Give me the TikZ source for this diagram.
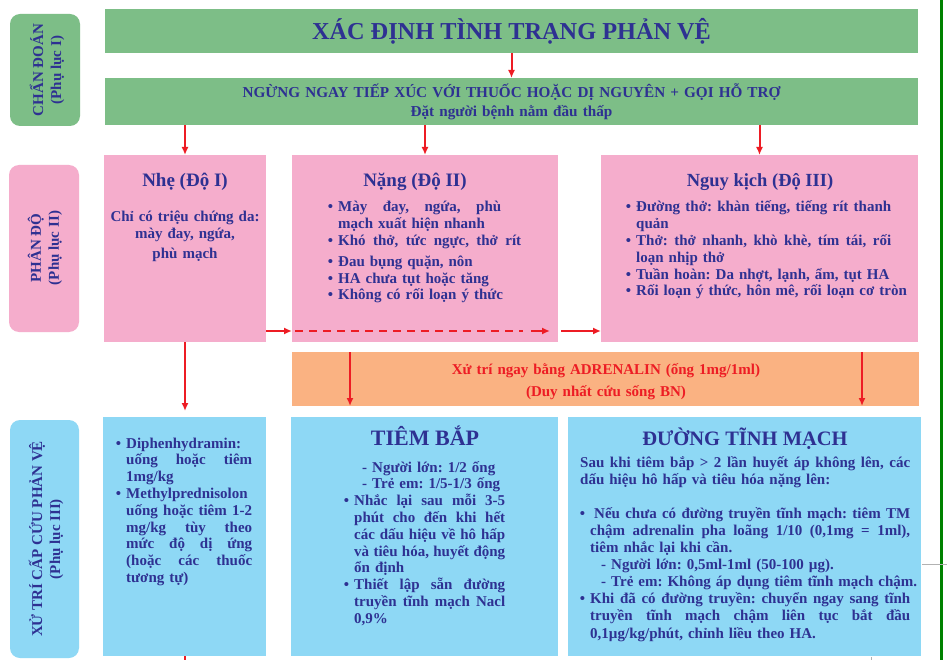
\documentclass[tikz,border=0pt]{standalone}
\usepackage{fontspec}
\setmainfont{Liberation Serif}
\usetikzlibrary{arrows.meta,calc}
\definecolor{cgreen}{RGB}{125,190,135}
\definecolor{cpink}{RGB}{245,173,204}
\definecolor{corange}{RGB}{250,178,130}
\definecolor{cblue}{RGB}{142,216,245}
\definecolor{cnavy}{RGB}{46,49,146}
\definecolor{cred}{RGB}{237,28,36}
\definecolor{cline}{RGB}{0,130,0}
\newcommand\jl[2]{\makebox[#1pt][s]{\spaceskip=\fontdimen2\font plus 1fil\relax\xspaceskip=\spaceskip #2}}
\newcommand\bl{\leavevmode\llap{\textbullet\hspace{5pt}}}
\newcommand\mkbox[6]{\node[box,#6,minimum width={(#4-#2)*1pt},minimum height={(#5-#3)*1pt}] (#1) at (#2,#3) {};}
\tikzset{
  box/.style={draw=none, inner sep=0pt, outer sep=0pt, anchor=north west},
  lab/.style={box, rounded corners=10pt},
  txt/.style={inner sep=0pt, text=cnavy, font=\bfseries\fontsize{15}{16.8}\selectfont},
  body/.style={txt, anchor=base west, align=left},
  head/.style={inner sep=0pt, text=cnavy, anchor=base, font=\bfseries\fontsize{19}{22}\selectfont},
  labt/.style={inner sep=0pt, text=cnavy, align=center, rotate=90, font=\bfseries\fontsize{15}{18}\selectfont},
  arr/.style={draw=cred, line width=2pt, -{Latex[length=8pt,width=7pt]}},
  rline/.style={draw=cred, line width=2pt},
}
\begin{document}
\frenchspacing
\begin{tikzpicture}[x=1pt,y=-1pt]
\useasboundingbox (0,0) rectangle (947,660);
\fill[white] (0,0) rectangle (947,660);
% boxes
\mkbox{lab1}{10}{14}{80}{126}{lab,fill=cgreen}
\mkbox{title}{105}{9}{918}{53}{fill=cgreen}
\mkbox{act}{105}{78}{918}{125}{fill=cgreen}
\mkbox{lab2}{9}{165}{79}{332}{lab,fill=cpink}
\mkbox{nhe}{104}{155}{266}{342}{fill=cpink}
\mkbox{nang}{292}{155}{558}{342}{fill=cpink}
\mkbox{nguy}{601}{155}{918}{342}{fill=cpink}
\mkbox{adr}{292}{352}{919}{406}{fill=corange}
\mkbox{lab3}{10}{420}{79}{658}{lab,fill=cblue}
\mkbox{bone}{103}{417}{266}{656}{fill=cblue}
\mkbox{btwo}{291}{417}{558}{656}{fill=cblue}
\mkbox{bthree}{568}{417}{921}{656}{fill=cblue}
% side labels
\node[labt] (lab1t) at (47,70) {CHẨN ĐOÁN\\(Phụ lục I)};
\node[labt] (lab2t) at (45,248) {PHÂN ĐỘ\\(Phụ lục II)};
\node[labt] (lab3t) at (46,539) {XỬ TRÍ CẤP CỨU PHẢN VỆ\\(Phụ lục III)};
% top texts
\node[inner sep=0pt, text=cnavy, font=\bfseries\fontsize{24.3}{28}\selectfont, anchor=base] (titlet) at (511.5,40) {XÁC ĐỊNH TÌNH TRẠNG PHẢN VỆ};
\node[txt, font=\bfseries\fontsize{15.2}{19}\selectfont, align=center, text width=800pt, anchor=base] (actt) at (511.5,98) {NGỪNG NGAY TIẾP XÚC VỚI THUỐC HOẶC DỊ NGUYÊN + GỌI HỖ TRỢ\\Đặt người bệnh nằm đầu thấp};
% grade headings
\node[head] (nheh) at (185,187) {Nhẹ (Độ I)};
\node[head] (nangh) at (415,187) {Nặng (Độ II)};
\node[head, font=\bfseries\fontsize{18.5}{22}\selectfont] (nguyh) at (760,187) {Nguy kịch (Độ III)};
\node[txt, text width=160pt, align=center, anchor=base] (nheb) at (185,222) {Chỉ có triệu chứng da:\\mày đay, ngứa,\\[3pt]phù mạch};
\node[body, text width=220pt] (nangb) at (338,212) {\bl\jl{163}{Mày đay, ngứa, phù}\\
mạch xuất hiện nhanh\\
\bl\jl{183}{Khó thở, tức ngực, thở rít}\\[4pt]
\bl Đau bụng quặn, nôn\\
\bl HA chưa tụt hoặc tăng\\
\bl Không có rối loạn ý thức};
\node[body, text width=300pt] (nguyb) at (636,212) {\bl\jl{255}{Đường thở: khàn tiếng, tiếng rít thanh}\\
quản\\
\bl\jl{255}{Thở: thở nhanh, khò khè, tím tái, rối}\\
loạn nhịp thở\\
\bl Tuần hoàn: Da nhợt, lạnh, ẩm, tụt HA\\
\bl Rối loạn ý thức, hôn mê, rối loạn cơ tròn};
% adrenalin
\node[txt, text=cred, align=center, text width=600pt, anchor=base, font=\bfseries\fontsize{15}{22}\selectfont] (adrt) at (606,374) {Xử trí ngay bằng ADRENALIN (ống 1mg/1ml)\\(Duy nhất cứu sống BN)};
% treatment
\node[body, text width=150pt] (boneb) at (126,448) {\bl\jl{126}{Diphenhydramin:}\\
\jl{126}{uống hoặc tiêm}\\
1mg/kg\\
\bl\jl{126}{Methylprednisolon}\\
\jl{126}{uống hoặc tiêm 1-2}\\
\jl{126}{mg/kg tùy theo}\\
\jl{126}{mức độ dị ứng}\\
\jl{126}{(hoặc các thuốc}\\
tương tự)};
\node[head, font=\bfseries\fontsize{22}{26}\selectfont] (btwoh) at (425,445) {TIÊM BẮP};
\node[body, text width=190pt] (btwob) at (354,472) {\hspace*{8pt}- Người lớn: 1/2 ống\\
\hspace*{8pt}- Trẻ em: 1/5-1/3 ống\\
\bl\jl{151}{Nhắc lại sau mỗi 3-5}\\
\jl{151}{phút cho đến khi hết}\\
\jl{151}{các dấu hiệu về hô hấp}\\
\jl{151}{và tiêu hóa, huyết động}\\
ổn định\\
\bl\jl{151}{Thiết lập sẵn đường}\\
\jl{151}{truyền tĩnh mạch Nacl}\\
0,9\%};
\node[head, font=\bfseries\fontsize{20.5}{24}\selectfont] (bthreeh) at (745,445) {ĐƯỜNG TĨNH MẠCH};
\node[body, text width=360pt, font=\bfseries\fontsize{15}{17.1}\selectfont] (bthreeb) at (580,467) {\jl{330}{Sau khi tiêm bắp > 2 lần huyết áp không lên, các}\\
dấu hiệu hô hấp và tiêu hóa nặng lên:\\[17.1pt]
\hspace*{10pt}\bl\hspace{4pt}\jl{316}{Nếu chưa có đường truyền tĩnh mạch: tiêm TM}\\
\hspace*{10pt}\jl{320}{chậm adrenalin pha loãng 1/10 (0,1mg = 1ml),}\\
\hspace*{10pt}tiêm nhắc lại khi cần.\\
\hspace*{21pt}- Người lớn: 0,5ml-1ml (50-100 µg).\\
\hspace*{21pt}- Trẻ em: Không áp dụng tiêm tĩnh mạch chậm.\\
\hspace*{10pt}\bl\jl{320}{Khi đã có đường truyền: chuyển ngay sang tĩnh}\\
\hspace*{10pt}\jl{320}{truyền tĩnh mạch chậm liên tục bắt đầu}\\
\hspace*{10pt}0,1µg/kg/phút, chỉnh liều theo HA.};
% connectors
\coordinate (hl) at (0,331);
\coordinate (aone) at (350,0);
\coordinate (atwo) at (862,0);
\coordinate (stub) at (184.5,661);
\draw[arr] (title) -- (act);
\draw[arr] (act.south -| nhe.north) -- (nhe.north);
\draw[arr] (act.south -| nang.north) -- (nang.north);
\draw[arr] (act.south -| nguy.north) -- (nguy.north);
\draw[arr, shorten >=6pt] (nhe.south) -- (nhe.south |- bone.north);
\draw[rline] (bone.south -| stub) -- (stub);
\draw[arr] (nhe.east |- hl) -- (nang.west |- hl);
\draw[rline, dash pattern=on 8pt off 6pt] ($(nang.west |- hl)+(3,0)$) -- ($(nang.east |- hl)+(-35,0)$);
\draw[arr] ($(nang.east |- hl)+(-27,0)$) -- ($(nang.east |- hl)+(-8,0)$);
\draw[arr] ($(nang.east |- hl)+(3,0)$) -- (nguy.west |- hl);
\draw[arr] (adr.north -| aone) -- (adr.south -| aone);
\draw[arr] (adr.north -| atwo) -- (adr.south -| atwo);
% edge lines
\draw[cline, line width=3pt] (941,0) -- (941,660);
\draw[gray!60, line width=0.6pt] (922,564) -- (947,564);
\draw[gray!60, line width=0.6pt] (871,657) -- (871,660);
\end{tikzpicture}
\end{document}
